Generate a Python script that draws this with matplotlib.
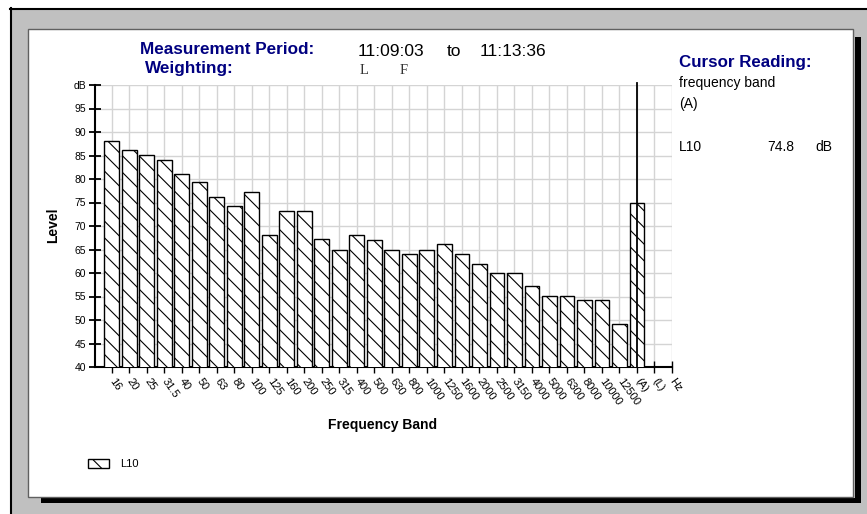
import matplotlib
matplotlib.use("Agg")
import matplotlib.pyplot as plt
from matplotlib.patches import Rectangle

# Band labels and L10 levels (dB)
bands = ["16", "20", "25", "31.5", "40", "50", "63", "80", "100", "125",
         "160", "200", "250", "315", "400", "500", "630", "800", "1000", "1250",
         "1600", "2000", "2500", "3150", "4000", "5000", "6300", "8000", "10000", "12500",
         "(A)"]
l10 = [88.1, 86.1, 85.1, 84.0, 81.1, 79.4, 76.2, 74.2, 77.3, 68.1,
       73.2, 73.2, 67.2, 65.0, 68.1, 67.1, 65.0, 64.0, 65.0, 66.2,
       64.0, 62.0, 60.0, 60.0, 57.3, 55.2, 55.2, 54.2, 54.2, 49.1,
       74.8]
extra_ticks = ["(L)", "Hz"]
y_ticks = [40, 45, 50, 55, 60, 65, 70, 75, 80, 85, 90, 95, 100]
y_labels = ["40", "45", "50", "55", "60", "65", "70", "75", "80", "85", "90", "95", "dB"]
cursor_band = "(A)"

W, H = 867, 514
plt.rcParams["font.family"] = ["Liberation Sans", "DejaVu Sans"]
plt.rcParams["hatch.linewidth"] = 0.8
plt.rcParams["hatch.color"] = "black"

fig = plt.figure(figsize=(W / 100, H / 100), dpi=100, facecolor="white")


def fx(px):
    return px / W


def fy(py):
    return 1 - py / H


def frect(x0, y0, x1, y1, **kw):
    r = Rectangle((fx(x0), fy(y1)), fx(x1) - fx(x0), fy(y0) - fy(y1),
                  transform=fig.transFigure, **kw)
    fig.add_artist(r)
    return r


# window frame
frect(10, 8, 867, 514, facecolor="#c0c0c0", edgecolor="none", zorder=-20)
fig.add_artist(plt.Line2D([fx(10.5), fx(10.5)], [fy(8), fy(514)], color="black", lw=1.5,
                          transform=fig.transFigure, zorder=-19))
fig.add_artist(plt.Line2D([fx(10), fx(867)], [fy(8.5), fy(8.5)], color="black", lw=1.5,
                          transform=fig.transFigure, zorder=-19))
frect(855, 37, 861, 503, facecolor="black", edgecolor="none", zorder=-18)
frect(41, 498, 861, 503, facecolor="black", edgecolor="none", zorder=-18)
frect(28, 29, 853, 497, facecolor="white", edgecolor="#606060", lw=1.0, zorder=-17)

# plot area
ax = fig.add_axes([fx(95), fy(367), fx(672) - fx(95), fy(85) - fy(367)])
ax.set_facecolor("white")
x = list(range(len(bands)))
bars = ax.bar(x, l10, width=0.84, bottom=0, color="white", edgecolor="black",
              linewidth=1.0, hatch="\\\\", zorder=3, label="L10")

all_labels = bands + extra_ticks
ax.set_xlim(-0.95, len(all_labels) - 1)
ax.set_ylim(40, 100)

ax.set_xticks(range(len(all_labels)))
ax.set_xticklabels(all_labels, rotation=-55, rotation_mode="anchor",
                   ha="left", va="center", fontsize=8)
ax.set_yticks(y_ticks)
ax.set_yticklabels(y_labels, fontsize=7.5)

ax.grid(True, color="#d4d4d4", lw=1.0, zorder=0)
ax.set_axisbelow(True)
for s in ("top", "right"):
    ax.spines[s].set_visible(False)
for s in ("left", "bottom"):
    ax.spines[s].set_linewidth(1.5)
ax.tick_params(axis="y", direction="inout", length=9, width=1.3, pad=2)
ax.tick_params(axis="x", direction="inout", length=9, width=1.0, pad=4)

# cursor line
ax.axvline(bands.index(cursor_band), ymin=0, ymax=1.006, color="black", lw=1.3,
           clip_on=False, zorder=4)

fig.text(fx(383), fy(425), "Frequency Band", fontsize=10, fontweight="bold",
         ha="center", va="center")
fig.text(fx(53), fy(225), "Level", fontsize=10, fontweight="bold",
         rotation=90, ha="center", va="center")

# header
navy = "#000080"
fig.text(fx(140), fy(50), "Measurement Period:", fontsize=12.3,
         fontweight="bold", color=navy, ha="left", va="center")
fig.text(fx(145), fy(69), "Weighting:", fontsize=12.3,
         fontweight="bold", color=navy, ha="left", va="center")
fig.text(fx(358), fy(51), "11:09:03", fontsize=12.5, ha="left", va="center")
fig.text(fx(447), fy(51), "to", fontsize=12.5, ha="left", va="center")
fig.text(fx(480), fy(51), "11:13:36", fontsize=12.5, ha="left", va="center")
fig.text(fx(360), fy(71), "L", family=["Liberation Serif", "DejaVu Serif"],
         fontsize=10.5, color="#333333", ha="left", va="center")
fig.text(fx(400), fy(71), "F", family=["Liberation Serif", "DejaVu Serif"],
         fontsize=10.5, color="#333333", ha="left", va="center")

# cursor reading panel
fig.text(fx(679), fy(63), "Cursor Reading:", fontsize=12.2,
         fontweight="bold", color=navy, ha="left", va="center")
fig.text(fx(679), fy(83), "frequency band", fontsize=10, ha="left", va="center")
fig.text(fx(679), fy(104), cursor_band, fontsize=10, ha="left", va="center")
cursor_value = l10[bands.index(cursor_band)]
fig.text(fx(679), fy(147), "L10", fontsize=10, ha="left", va="center")
fig.text(fx(794), fy(147), f"{cursor_value:.1f}", fontsize=10, ha="right", va="center")
fig.text(fx(815), fy(147), "dB", fontsize=10, ha="left", va="center")

# legend
ax.legend(handles=[bars], labels=["L10"], loc="center left",
          bbox_to_anchor=(fx(88), fy(464)), bbox_transform=fig.transFigure,
          frameon=False, fontsize=8, handlelength=1.9, handleheight=0.9,
          handletextpad=1.0, borderaxespad=0, borderpad=0)

fig.savefig("out.png", dpi=100, facecolor="white")
